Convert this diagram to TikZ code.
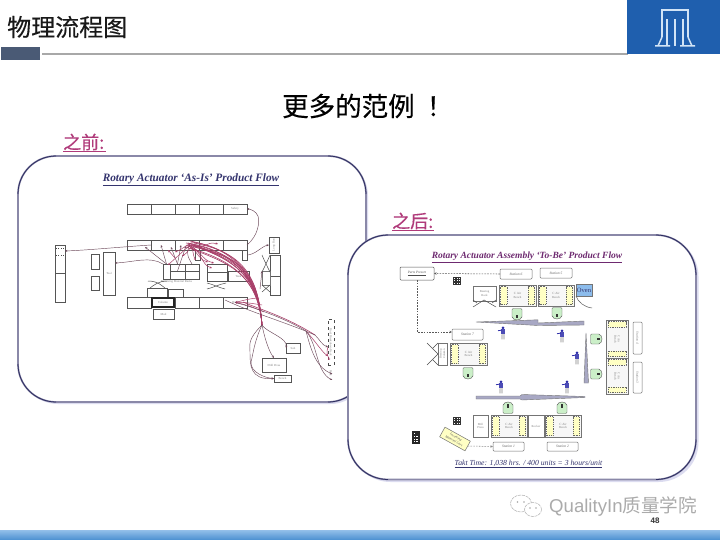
\documentclass[tikz,border=0pt]{standalone}
\usepackage{fontspec}
\setmainfont{Liberation Serif}
\newfontfamily\cjk{Noto Sans CJK SC}
\newfontfamily\cjkb[FakeBold=0.3]{Noto Sans CJK SC}
\newfontfamily\latinsans{Liberation Sans}
\usetikzlibrary{arrows.meta,calc,shadings}
\definecolor{logoblue}{HTML}{1F5FAE}
\definecolor{logoline}{HTML}{D2E4F6}
\definecolor{slatebar}{HTML}{4A5A75}
\definecolor{rulegray}{HTML}{A8A8A8}
\definecolor{pink}{HTML}{B03A7A}
\definecolor{panelline}{HTML}{8A88A8}
\definecolor{paneldark}{HTML}{2E2E62}
\definecolor{panelshade}{HTML}{DCDCF0}
\definecolor{navytitle}{HTML}{34346E}
\definecolor{plumtitle}{HTML}{6E2A70}
\definecolor{flow}{HTML}{A83E68}
\definecolor{flowdark}{HTML}{6E4A5C}
\definecolor{cellline}{HTML}{555555}
\definecolor{softline}{HTML}{747474}
\definecolor{benchyellow}{HTML}{FFFFC4}
\definecolor{stoolgreen}{HTML}{CBEFC8}
\definecolor{conveyor}{HTML}{A8A8C4}
\definecolor{ovenblue}{HTML}{8CBCEC}
\definecolor{opblue}{HTML}{2C2CA8}
\definecolor{bartop}{HTML}{8FBDE8}
\definecolor{barbottom}{HTML}{4A8FD0}
\tikzset{
  cell/.style={draw=cellline,line width=.5pt,inner sep=0pt,outer sep=0pt,fill=white,font=\fontsize{3}{3.5}\selectfont,text=gray,align=center},
  softcell/.style={cell,draw=softline,line width=.65pt},
  heavycell/.style={cell,line width=1.1pt,draw=black!85},
  stationbox/.style={cell,draw=softline,rounded corners=1pt,font=\itshape\fontsize{3.6}{4}\selectfont,text=black!60},
  ovenbox/.style={cell,fill=ovenblue,draw=softline,font=\fontsize{6.5}{7}\selectfont,text=navytitle},
  cartbox/.style={cell,fill=benchyellow,draw=black!55,font=\itshape\fontsize{3.4}{4.4}\selectfont,text=black!65},
  dashcell/.style={cell,dashed,draw=black!70,fill=none},
  tinytext/.style={inner sep=0pt,font=\fontsize{3}{3.5}\selectfont,text=gray,align=center},
  flowline/.style={draw=flow,line width=.5pt,-{Stealth[length=2.4pt,width=2pt]}},
  flowplain/.style={draw=flow,line width=.6pt},
  thinflow/.style={draw=flowdark,line width=.45pt},
  thinarrow/.style={thinflow,-{Stealth[length=2.4pt,width=2pt]}},
  material/.style={draw=black!65,line width=.55pt,dash pattern=on 1.6pt off 1.2pt,-{Stealth[length=2.6pt,width=2.4pt]}},
  rackx/.style={draw=black!70,line width=.5pt},
  conveyorbar/.style={fill=conveyor,draw=black!55,line width=.4pt},
  panelborder/.style={draw=panelline,line width=1.7pt,fill=white,rounded corners=38pt},
  panelarc/.style={draw=paneldark,line width=.8pt}
}
% box given by its corners: style, name, x1, y1, x2, y2, text
\newcommand{\BoxAt}[7]{\node[#1,minimum width={(#5-(#3))*1pt},minimum height={(#6-(#4))*1pt}] (#2) at ({(#3+#5)/2},{(#4+#6)/2}) {#7};}
% work bench with parts bins on the two short ends
\newcommand{\BenchH}[5]{%
  \BoxAt{softcell,fill=black!3}{#1}{#2}{#3}{#4}{#5}{\fontsize{3.2}{3.8}\selectfont C Air\\Bench}
  \draw[fill=benchyellow,draw=black!60,line width=.35pt,dash pattern=on 1pt off .8pt] (#2+1.5,#3+1.5) rectangle (#2+8,#5-1.5);
  \draw[fill=benchyellow,draw=black!60,line width=.35pt,dash pattern=on 1pt off .8pt] (#4-8,#3+1.5) rectangle (#4-1.5,#5-1.5);
}
\newcommand{\BenchV}[5]{%
  \BoxAt{softcell,fill=black!3}{#1}{#2}{#3}{#4}{#5}{}
  \node[tinytext,rotate=-90] at (#1) {C Air\\Bench};
  \draw[fill=benchyellow,draw=black!60,line width=.35pt,dash pattern=on 1pt off .8pt] (#2+2,#3+1.5) rectangle (#4-2,#3+7);
  \draw[fill=benchyellow,draw=black!60,line width=.35pt,dash pattern=on 1pt off .8pt] (#2+2,#5-7) rectangle (#4-2,#5-1.5);
}
% operator seat, seen from above
\newcommand{\Seat}[3]{% x, y, rotation
  \begin{scope}[shift={(#1,#2)},rotate=#3]
    \draw[fill=stoolgreen,draw=black!65,line width=.4pt,rounded corners=1.2pt] (-5,-5.5) rectangle (5,4);
    \draw[fill=stoolgreen,draw=black!65,line width=.4pt] (-4.6,3) arc[start angle=180,end angle=360,x radius=4.6,y radius=-3];
    \fill[black!80] (-1.2,.5) rectangle (1.2,4);
  \end{scope}}
% standing operator
\newcommand{\Operator}[2]{%
  \begin{scope}[shift={(#1,#2)}]
    \fill[opblue] (0,-5.2) circle[radius=1.5];
    \fill[opblue!85] (-1.7,-3.8) rectangle (1.6,1.2);
    \draw[opblue,line width=.8pt] (-1.5,-2.8) -- (-5,-2.3);
    \draw[black!50,line width=.7pt] (-.9,1.2) -- (-1,6.4) (.9,1.2) -- (1,6.4);
  \end{scope}}
% parts cart shown as a dark rack of bins
\newcommand{\CartIcon}[2]{%
  \begin{scope}[shift={(#1,#2)}]
    \fill[black!80] (-3.6,-4.4) rectangle (3.6,4);
    \foreach \cx in {-2.2,0,2.2} \foreach \cy in {-2.6,0,2.4} \fill[white] (\cx-.5,\cy-.6) rectangle (\cx+.5,\cy+.4);
  \end{scope}}
\begin{document}
\begin{tikzpicture}[x=1pt,y=-1pt]
\useasboundingbox (0,0) rectangle (720,540);
\fill[white] (0,0) rectangle (720,540);

% --- slide header
\fill[slatebar] (1,47) rectangle (40,60);
\draw[rulegray,line width=1.2pt] (42,54) -- (628,54);
\fill[logoblue] (627,0) rectangle (720,54);
\begin{scope}[draw=logoline,line width=1.5pt]
  \draw (662,37) -- (662,10) -- (688,10) -- (688,37);
  \draw (667,46) -- (667,19) (675,46) -- (675,19) (683,46) -- (683,19);
  \draw (662,37) -- (658,46) -- (655,46) (655,46) -- (670,46);
  \draw (688,37) -- (692,46) -- (695,46) (695,46) -- (680,46);
\end{scope}
\node[inner sep=0pt,anchor=west,font=\cjkb\fontsize{24}{26}\selectfont,text=black!90] (pagetitle) at (7,27) {物理流程图};
\node[inner sep=0pt,anchor=west,font=\cjkb\fontsize{26.5}{28}\selectfont,text=black] (headline) at (282,106) {更多的范例\kern12pt！};
\node[inner sep=0pt,anchor=west,font=\cjkb\fontsize{18}{20}\selectfont,text=pink] (before) at (63,142) {之前:};
\draw[pink,line width=.8pt] (63,151.5) -- (106,151.5);
\node[inner sep=0pt,anchor=west,font=\cjkb\fontsize{18}{20}\selectfont,text=pink] (after) at (392,221) {之后:};
\draw[pink,line width=.8pt] (392,230.5) -- (434,230.5);

% --- left panel: current product flow
\fill[panelshade,rounded corners=38pt] (20,158) rectangle (368,404);
\draw[panelborder] (18,156) rectangle (366,402);
\draw[panelarc] (18,194) arc[start angle=180,end angle=270,radius=38];
\draw[panelarc] (328,156) arc[start angle=270,end angle=360,radius=38];
\draw[panelarc] (18,364) arc[start angle=180,end angle=90,radius=38];
\draw[panelarc] (328,402) arc[start angle=90,end angle=0,radius=38];

\node[inner sep=0pt,font=\bfseries\itshape\fontsize{11.3}{12}\selectfont,text=navytitle] (astitle) at (191,180) {\underline{Rotary Actuator ‘As-Is’ Product Flow}};

% top row of machines
\BoxAt{cell}{ta}{127}{204}{151}{214}{}
\BoxAt{cell}{tb}{151}{204}{175}{214}{}
\BoxAt{cell}{tc}{175}{204}{199}{214}{}
\BoxAt{cell}{td}{199}{204}{223}{214}{}
\BoxAt{cell}{safety}{223}{204}{247}{214}{Safety}
% second row
\BoxAt{cell}{ma}{127}{240}{151}{250}{}
\BoxAt{cell}{mb}{151}{240}{175}{250}{}
\BoxAt{cell}{mc}{175}{240}{199}{250}{}
\BoxAt{cell}{md}{199}{240}{223}{250}{}
\BoxAt{cell}{me}{223}{240}{247}{250}{}
\BoxAt{cell}{dropa}{195}{250}{200}{260}{}
\BoxAt{cell}{dropb}{242}{250}{247}{260}{}
% far left storage
\BoxAt{cell}{col}{55}{245}{65}{302}{}
\draw[cellline,line width=.5pt] (55,273) -- (65,273);
\draw[black!70,dotted,line width=.4pt] (56,248) -- (64,248) (56,255) -- (64,255);
\BoxAt{cell}{shelfa}{91}{254}{99}{269}{}
\BoxAt{cell}{shelfb}{91}{276}{99}{290}{}
\BoxAt{cell}{tool}{103}{252}{115}{295}{Tool}
% centre racks
\BoxAt{cell}{ra}{163}{264}{170}{279}{}
\BoxAt{cell}{rb}{170}{264}{185}{271}{}
\BoxAt{cell}{rc}{185}{264}{199}{271}{}
\BoxAt{cell}{rd}{170}{271}{185}{279}{}
\BoxAt{cell}{re}{185}{271}{199}{279}{}
\BoxAt{cell}{tank}{228}{271}{249}{281}{Tank}
\BoxAt{cell}{rf}{207}{264}{227}{281}{}
\draw[cellline,line width=.5pt] (207,272) -- (227,272);
\node[tinytext] (racks) at (176.5,281.5) {Receiving Material Racks};
\draw[rackx] (148,281) .. controls (158,281) and (162,286) .. (165,288);
\draw[rackx] (167,281) .. controls (159,281) and (154,285) .. (150,288);
\draw[rackx] (207,283) .. controls (212,284) and (220,288) .. (225,289);
\draw[rackx] (226,283) .. controls (220,284) and (212,288) .. (207,289);
\BoxAt{cell}{rg}{147}{288}{167}{297}{}
\BoxAt{cell}{rh}{168}{289}{183}{297}{}
% third row
\BoxAt{cell}{ba}{127}{297}{151}{308}{}
\BoxAt{cell}{bc}{175}{297}{199}{308}{}
\BoxAt{cell}{bd}{199}{297}{223}{308}{}
\BoxAt{cell}{drill}{223}{297}{247}{308}{Drill}
\BoxAt{heavycell}{column}{152}{298}{174}{307}{Column}
\BoxAt{cell}{mod}{153}{309}{174}{319}{Mod}
% right-hand stations
\BoxAt{cell}{longrun}{269}{237}{279}{253}{}
\node[tinytext,rotate=90] at (longrun) {Long Run};
\BoxAt{cell}{sa}{270}{255}{280}{295}{}
\draw[cellline,line width=.5pt] (270,276) -- (280,276);
\BoxAt{softcell}{sb}{262}{271}{270}{285}{}
\draw[rackx] (262,255) .. controls (264,260) and (268,268) .. (270,272);
\draw[rackx] (270,255) .. controls (268,260) and (264,268) .. (262,272);
\draw[rackx] (262,285) -- (270,292) (270,285) -- (262,292);
\BoxAt{cell}{drillpress}{262}{358}{286}{372}{Drill Press}
\BoxAt{cell}{sub}{286}{343}{300}{353}{Sub}
\BoxAt{cell}{bench}{274}{375}{291}{382}{Bench}
\BoxAt{dashcell}{breakdown}{328}{319}{334}{365}{}
\node[tinytext,rotate=-90] at (breakdown) {Final Breakdown Rack};
\node[tinytext,rotate=-90] (pack) at (331,373) {Pack};

% parts flow between stations
\coordinate (hubA) at (175,258);
\coordinate (hubB) at (262,325);
\coordinate (hubC) at (306,331);
\coordinate (hubD) at (315,335);
\draw[thinarrow] (ma.east) .. controls (120,247) and (90,250) .. (col.east |- 0,251);
\draw[thinarrow] (ra.north west) .. controls (150,256) and (135,262) .. (tool.east |- 0,263);
\draw[thinarrow] (ra.north) -- (145,247);
\draw[thinarrow] (ra.north) -- (161,245);
\draw[thinarrow] (rb.north) -- (171,247);
\draw[thinarrow] (rb.north) -- (181,245);
\draw[thinarrow] (rc.north) .. controls (190,260) and (185,255) .. (190,244);
\draw[thinarrow] (rd.north) -- (186,246);
\draw[thinarrow] (me.east) .. controls (258,236) and (260,222) .. (258,216) .. controls (256,211) and (250,209) .. (safety.east);
\draw[thinarrow] (dropb.east) .. controls (255,255) and (262,246) .. (longrun.west);
\draw[thinarrow] (260,289) -- (262,271);
% the main red bundle sweeping from the second row down the right side
\foreach \sx/\sy/\cx/\cy in {186/243/226/248, 188/245/230/252, 190/241/236/250, 192/246/226/256, 194/243/240/252, 190/248/222/258, 196/245/236/256, 188/243/232/260, 192/244/238/262, 186/247/226/262, 194/247/242/258, 191/242/228/246}{
  \draw[flowplain] (\sx,\sy) .. controls (\cx,\cy) and (258,272) .. (hubB);}
\foreach \sx/\sy/\tx/\ty in {186/245/208/262, 192/245/222/255, 188/246/214/263, 195/244/182/256, 190/243/196/260, 192/243/175/252, 190/246/212/268, 194/246/218/244}{
  \draw[flowline] (\sx,\sy) .. controls ({(\sx+\tx)/2},{\sy+3}) and ({(\sx+\tx)/2},{\ty-3}) .. (\tx,\ty);}
\draw[flowline] (hubA) -- (168,250);
\draw[flowline] (190,245) -- (168,265);
% flows leaving the bundle
\draw[flowline] (264,312) .. controls (255,308) and (248,305) .. (drill.center);
\draw[flowline] (262,305) .. controls (255,304) and (246,302) .. (drill.center);
\draw[flowline] (259,298) .. controls (252,298) and (245,300) .. (drill.center);
\draw[thinflow] (drill.center) .. controls (250,306) and (285,318) .. (hubC);
\draw[flowplain] (243,302) .. controls (256,308) and (285,316) .. (hubD);
\draw[thinflow] (225,300) .. controls (250,312) and (285,322) .. (hubD);
\draw[thinarrow] (hubD) .. controls (320,340) and (322,345) .. (breakdown.west |- 0,347);
\draw[flowline] (hubC) .. controls (316,342) and (322,352) .. (breakdown.west |- 0,356);
\draw[thinarrow] (hubC) .. controls (312,355) and (318,368) .. (pack.north |- 0,374);
\draw[thinarrow] (hubC) .. controls (318,345) and (316,372) .. (pack.north |- 0,380);
\draw[flowline] (breakdown.west |- 0,347) .. controls (325,356) and (330,358) .. (breakdown.west |- 0,360);
\draw[thinarrow] (hubB) .. controls (264,335) and (268,350) .. (drillpress.north);
\draw[thinarrow] (hubB) .. controls (266,332) and (288,338) .. (sub.west);
\draw[thinarrow] (hubB) .. controls (254,342) and (253,355) .. (251,362) .. controls (250,372) and (265,378) .. (bench.west);
\draw[thinarrow] (hubB) .. controls (247,340) and (250,345) .. (250,352) .. controls (250,365) and (250,380) .. (bench.west);

% --- right panel: future product flow
\fill[panelshade,rounded corners=40pt] (350.5,236.5) rectangle (698.5,482);
\draw[panelborder,rounded corners=40pt] (348,235) rectangle (696,479.5);
\draw[panelarc] (348,275) arc[start angle=180,end angle=270,radius=40];
\draw[panelarc] (656,235) arc[start angle=270,end angle=360,radius=40];
\draw[panelarc] (348,439.5) arc[start angle=180,end angle=90,radius=40];
\draw[panelarc] (656,479.5) arc[start angle=90,end angle=0,radius=40];

\node[inner sep=0pt,font=\bfseries\itshape\fontsize{9.5}{11}\selectfont,text=plumtitle] (tobetitle) at (527,257) {\underline{Rotary Actuator Assembly ‘To-Be’ Product Flow}};

\BoxAt{cell,rounded corners=1pt,font=\itshape\fontsize{3.4}{4}\selectfont,text=black!70}{presort}{400}{267}{434}{280}{\underline{Parts Presort}}
\BoxAt{stationbox}{st6}{500}{269}{532}{279}{Station 6}
\BoxAt{stationbox}{st5}{540}{268}{572}{278}{Station 5}
\BoxAt{stationbox}{st7}{452}{329}{483}{340}{Station 7}
\BoxAt{stationbox}{st1}{493}{442}{524}{451}{Station 1}
\BoxAt{stationbox}{st2}{547}{442}{578}{451}{Station 2}
\BoxAt{stationbox}{st4}{633}{322}{642}{354}{}
\BoxAt{stationbox}{st3}{633}{362}{642}{393}{}
\node[tinytext,rotate=-90,font=\itshape\fontsize{3.4}{4}\selectfont] at (st4) {Station 4};
\node[tinytext,rotate=-90,font=\itshape\fontsize{3.4}{4}\selectfont] at (st3) {Station 3};

\draw[material] (st6.west) -- (presort.east);
\coordinate (turn) at (417,332);
\draw[material] (presort.south -| turn) -- (turn) -- (st7.west |- turn);

\CartIcon{457}{281}
\CartIcon{457}{421}
\begin{scope}[shift={(416,437.5)}]
  \fill[black!85] (-3.6,-6.5) rectangle (3.6,6.5);
  \foreach \cx in {-1.8,0,1.8} \foreach \cy in {-1,1.6,4.2} \fill[white] (\cx-.45,\cy-.45) rectangle (\cx+.45,\cy+.45);
  \fill[white] (-2.2,-5) rectangle (-.8,-3.5);
\end{scope}

% upper line
\BoxAt{softcell}{rackbox}{473}{286}{496}{301}{Bearing\\Rack}
\draw[rackx] (473,307) -- (484,300) -- (496,307) (473,300) -- (477,303) (496,300) -- (492,303);
\BenchH{benchA}{499}{285}{536}{306}
\BenchH{benchB}{538}{285}{574}{306}
\BoxAt{ovenbox}{oven}{576}{284}{592}{296}{Oven}
\draw[black!65,line width=.5pt] (576,296) .. controls (578,302) and (584,307) .. (592,308);
\Seat{517}{314}{0}
\Seat{557}{313}{0}

% conveyors
\fill[conveyorbar] (476,322) -- (538,319.8) -- (538,323) -- (584,321) -- (584,325) -- (538,325.5) -- cycle;
\fill[conveyorbar] (476,396) -- (520,396) -- (522,394.5) -- (585,396.5) -- (585,397.5) -- (522,400) -- (520,399) -- (476,399) -- cycle;
\fill[conveyorbar] (586,333) -- (588.5,383) -- (584,383) -- cycle;

% middle left
\BoxAt{softcell}{racktwo}{438}{343}{447}{365}{}
\node[tinytext,rotate=90] at (racktwo) {Bearing\\Column};
\draw[rackx] (427,343) -- (438,354) -- (427,365) (438,343) -- (433,348) (438,365) -- (433,360);
\BenchH{benchC}{450}{343}{487}{365}
\Seat{468}{373}{0}

% right-hand benches
\BenchV{benchD}{606}{320}{628}{358}
\BenchV{benchE}{606}{358}{628}{394}
\Seat{596}{339}{90}
\Seat{596}{374}{90}

% bottom line
\Seat{508}{408}{180}
\Seat{562}{408}{180}
\BoxAt{softcell}{mill}{473}{415}{488}{437}{Mill\\Press}
\BenchH{benchF}{491}{415}{527}{437}
\BoxAt{softcell}{rocker}{528}{415}{544}{437}{Rocker}
\BenchH{benchG}{545}{415}{581}{437}
\node[cartbox,minimum width=29pt,minimum height=11pt,rotate=-29] (incoming) at (455,439) {Incoming\\Material Cart};
\draw[material,draw=black!45] (incoming.east) -- (st1.west);

% operators at their walking paths
\Operator{503}{333}
\Operator{562}{336}
\Operator{577}{358}
\Operator{567}{387}
\Operator{501}{387}

\node[inner sep=0pt,font=\itshape\fontsize{7.7}{10}\selectfont,text=navytitle] (takt) at (528.5,464) {\underline{Takt Time: 1,038 hrs. / 400 units = 3 hours/unit}};

% --- footer
\begin{scope}[shift={(526,506)}]
  \draw[black!32,line width=.5pt,dash pattern=on 3pt off .8pt,fill=white] (-5,-2.5) ellipse[x radius=10.5,y radius=8.5];
  \draw[black!32,line width=.5pt,dash pattern=on 3pt off .8pt,fill=white] (7,3.5) ellipse[x radius=8.5,y radius=7];
  \fill[black!35] (-8.5,-4) circle[radius=.9] (-2,-4) circle[radius=.9] (4,2) circle[radius=.8] (10,2) circle[radius=.8];
\end{scope}
\node[inner sep=0pt,anchor=west,font=\latinsans\fontsize{18.6}{20}\selectfont,text=black!33] (brand) at (549,507) {QualityIn{\cjk 质量学院}};
\node[inner sep=0pt,font=\latinsans\bfseries\fontsize{8}{9}\selectfont,text=black!80] (pagenum) at (655,521) {48};
\shade[top color=bartop,bottom color=barbottom] (0,530.5) rectangle (720,540);
\end{tikzpicture}
\end{document}
